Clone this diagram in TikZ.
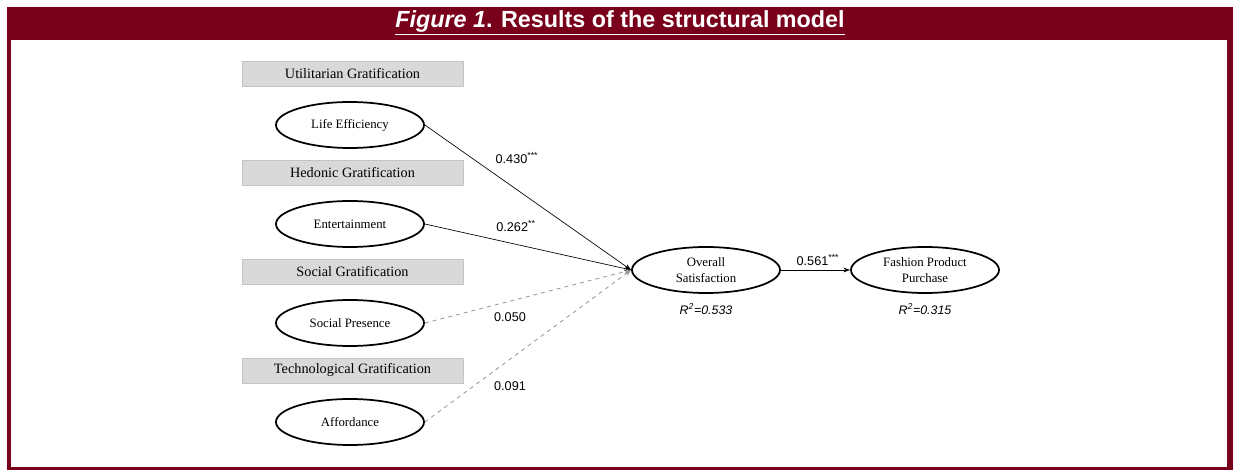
\documentclass[tikz,border=0pt]{standalone}
\usepackage{fontspec}
\setmainfont{Liberation Serif}
\newfontfamily\arialfont{Liberation Sans}
\usetikzlibrary{arrows.meta,shapes.geometric}
\definecolor{titlered}{RGB}{120,0,26}
\definecolor{boxgray}{RGB}{217,217,217}
\definecolor{boxline}{RGB}{196,196,196}
\definecolor{pathgray}{RGB}{150,150,150}
\tikzset{
  grat/.style={draw=boxline,fill=boxgray,minimum width=165.75pt,minimum height=18.75pt,inner sep=0pt,font=\fontsize{10.7}{12}\selectfont},
  construct/.style={draw,ellipse,line width=1.3pt,minimum width=111pt,minimum height=34.5pt,inner sep=0pt,align=center,font=\fontsize{9.6}{12.5}\selectfont},
  coef/.style={font=\arialfont\fontsize{9.5}{11}\selectfont},
  rsq/.style={font=\arialfont\itshape\fontsize{9.3}{11}\selectfont},
  sig/.style={-{Stealth[length=5pt,width=3.5pt]},line width=0.5pt},
  nonsig/.style={-{Stealth[length=5pt,width=3.5pt]},draw=pathgray,dashed,line width=0.6pt}
}
\begin{document}
\begin{tikzpicture}[x=0.75pt,y=-0.75pt]
\useasboundingbox (0,0) rectangle (1233,470);
\fill[titlered] (7,7) rectangle (1233,470);
\fill[white] (11,40) rectangle (1227,467);
\node[text=white,font=\arialfont\bfseries\fontsize{17.5}{20}\selectfont] (T) at (620,23)
  {\underline{\textit{Figure 1}. Results of the structural model}};
% gratification headers
\node[grat] (G1) at (352.5,73.5) {Utilitarian Gratification};
\node[grat] (G2) at (352.5,172.5) {Hedonic Gratification};
\node[grat] (G3) at (352.5,271.5) {Social Gratification};
\node[grat] (G4) at (352.5,370.5) {Technological Gratification};
% constructs
\node[construct] (LE) at (350,125) {Life Efficiency};
\node[construct] (EN) at (350,224) {Entertainment};
\node[construct] (SP) at (350,323) {Social Presence};
\node[construct] (AF) at (350,422) {Affordance};
\node[construct] (OS) at (706,270) {Overall\\Satisfaction};
\node[construct] (FP) at (925,270) {Fashion Product\\Purchase};
\node[rsq] (R1) at (706,309) {R\textsuperscript{2}=0.533};
\node[rsq] (R2) at (925,309) {R\textsuperscript{2}=0.315};
% paths
\draw[sig] (LE.east) -- (OS.west);
\draw[sig] (EN.east) -- (OS.west);
\draw[nonsig] (SP.east) -- (OS.west);
\draw[nonsig] (AF.east) -- (OS.west);
\draw[sig] (OS.east) -- (FP.west);
\node[coef] (C1) at (517,158) {0.430\textsuperscript{***}};
\node[coef] (C2) at (516,226) {0.262\textsuperscript{**}};
\node[coef] (C3) at (510,317) {0.050};
\node[coef] (C4) at (510,386) {0.091};
\node[coef] (C5) at (818,260) {0.561\textsuperscript{***}};
\end{tikzpicture}
\end{document}
